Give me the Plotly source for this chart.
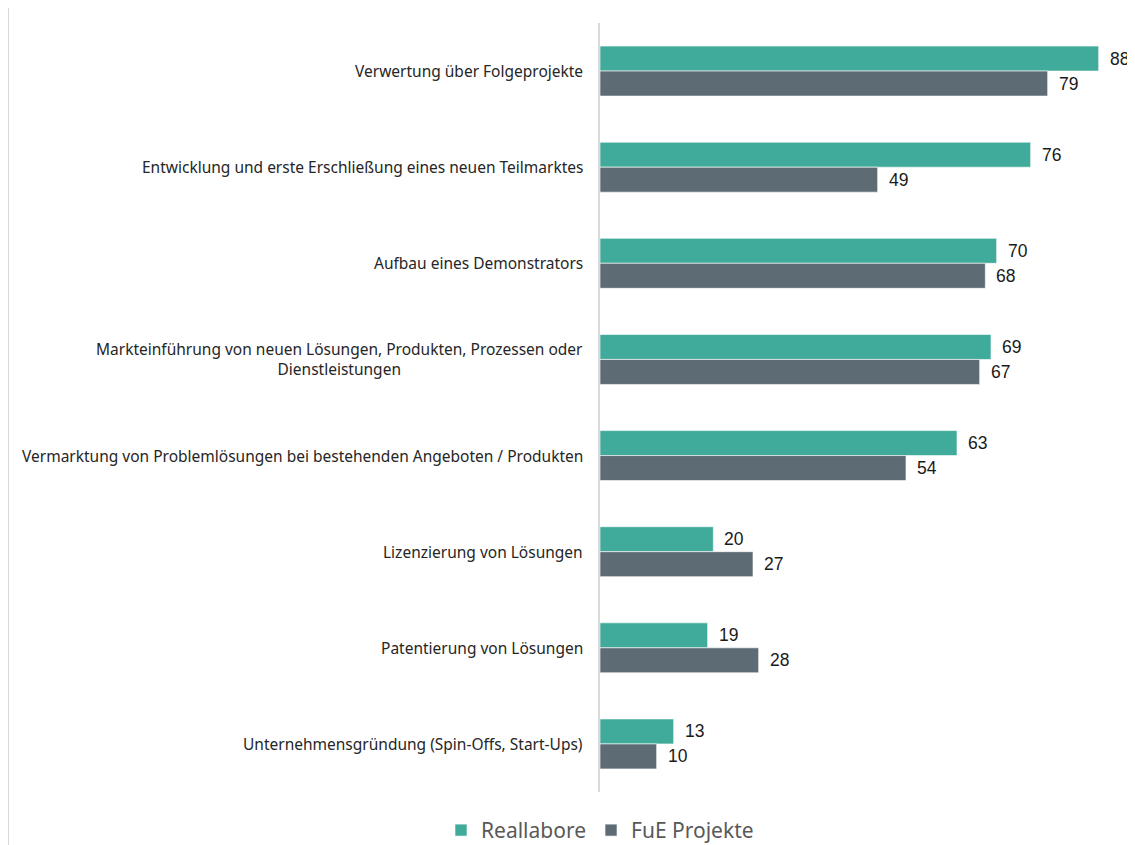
import plotly.graph_objects as go

categories = [
    "Verwertung über Folgeprojekte",
    "Entwicklung und erste Erschließung eines neuen Teilmarktes",
    "Aufbau eines Demonstrators",
    "Markteinführung von neuen Lösungen, Produkten, Prozessen oder<br>Dienstleistungen",
    "Vermarktung von Problemlösungen bei bestehenden Angeboten / Produkten",
    "Lizenzierung von Lösungen",
    "Patentierung von Lösungen",
    "Unternehmensgründung (Spin-Offs, Start-Ups)",
]
reallabore = [88, 76, 70, 69, 63, 20, 19, 13]
fue_projekte = [79, 49, 68, 67, 54, 27, 28, 10]
series_names = ["Reallabore", "FuE Projekte"]
colors = ["#40AB9A", "#5D6B74"]

# page body has an 8px default margin, so the figure is sized to fit the window
W, H = 1127, 837
L, R, T, B = 592, 8, 15, 53
pw = W - L - R
ph = H - T - B

fig = go.Figure()
for i, (name, vals, col) in enumerate(zip(series_names, [reallabore, fue_projekte], colors)):
    fig.add_trace(go.Bar(
        y=categories, x=vals, name=name, orientation="h",
        marker=dict(color=col, line=dict(color="rgba(255,255,255,0.6)", width=1)),
        offsetgroup=str(i),
    ))
    for c, v in zip(categories, vals):
        fig.add_annotation(
            x=v, xref="x", y=c, yref="y", xanchor="left", xshift=9,
            yshift=12.5 if i == 0 else -12.5,
            text=str(v), showarrow=False,
            font=dict(family="Liberation Sans, Arial", size=17.5, color="#1a1a1a"),
        )

for c in categories:
    fig.add_annotation(
        x=0, xref="paper", xshift=-15, xanchor="right", y=c, yref="y",
        text=c, showarrow=False, align="center",
        font=dict(family="Noto Sans", size=15.5, color="#262626"),
    )

fig.add_shape(type="line", xref="paper", yref="paper",
              x0=(0.5 - L) / pw, x1=(0.5 - L) / pw, y0=(H - B) / ph, y1=-B / ph,
              line=dict(color="#d9d9d9", width=1))

fig.update_layout(
    width=W, height=H,
    margin=dict(l=L, r=R, t=T, b=B, autoexpand=False),
    plot_bgcolor="white", paper_bgcolor="white",
    barmode="group", bargap=0.48, bargroupgap=0,
    xaxis=dict(range=[0, 93], showgrid=False, showticklabels=False, zeroline=False,
               showline=False, ticks=""),
    yaxis=dict(autorange="reversed", showticklabels=False, showgrid=False, ticks="",
               showline=True, linecolor="#d9d9d9", linewidth=1.5),
    showlegend=True,
    legend=dict(orientation="h", x=0, xanchor="center", y=-0.05, yanchor="middle",
                font=dict(family="Noto Sans", size=21, color="#595959"),
                itemwidth=30, traceorder="normal"),
)

fig.write_html("out.html")
